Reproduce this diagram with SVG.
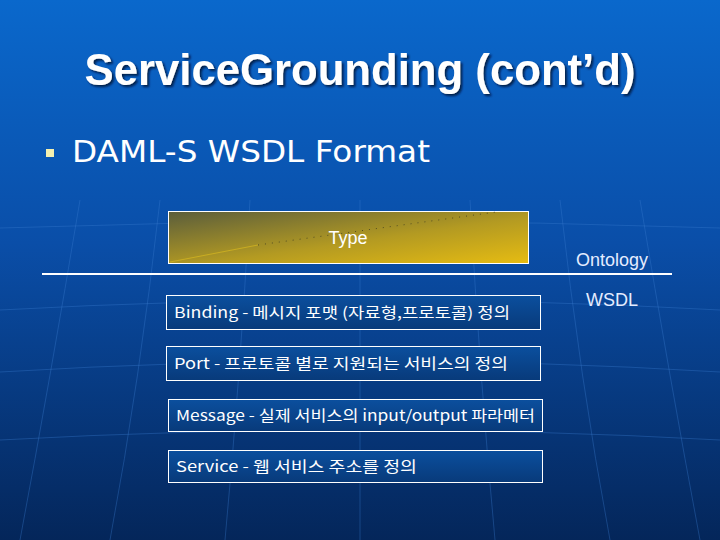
<svg xmlns="http://www.w3.org/2000/svg" width="720" height="540" viewBox="0 0 720 540">
<defs>
<linearGradient id="bg" x1="0" y1="0" x2="0" y2="1">
<stop offset="0" stop-color="#0a68cc"/>
<stop offset="0.45" stop-color="#0a4ea8"/>
<stop offset="1" stop-color="#04265a"/>
</linearGradient>
<linearGradient id="typeg" x1="0" y1="0" x2="1" y2="1">
<stop offset="0" stop-color="#5a5d3c"/>
<stop offset="0.55" stop-color="#b39a22"/>
<stop offset="1" stop-color="#e6bc12"/>
</linearGradient>
<linearGradient id="boxg" x1="0" y1="0" x2="0" y2="1">
<stop offset="0" stop-color="#0b4f9e"/>
<stop offset="1" stop-color="#083a7a"/>
</linearGradient>
<filter id="sh" x="-5%" y="-20%" width="110%" height="140%">
<feDropShadow dx="2" dy="2" stdDeviation="1" flood-color="#001030" flood-opacity="0.8"/>
</filter>
<style>
.title{font-family:"Liberation Sans",Arial,sans-serif;font-weight:bold;font-size:44px;fill:#ffffff}
.sub{font-family:"DejaVu Sans",Verdana,sans-serif;font-size:30px;fill:#ffffff}
.lbl{font-family:"Liberation Sans",Arial,sans-serif;font-size:18px;fill:#e4ecff}
.box{fill:url(#boxg);stroke:#ffffff;stroke-width:1}
.kt{font-family:"Noto Sans CJK KR","Noto Sans",sans-serif;font-size:15px;fill:#ffffff}
.grid{fill:none;stroke:#3c7fd0;stroke-width:1;opacity:0.35}
</style>
</defs>
<rect width="720" height="540" fill="url(#bg)"/>
<g id="globe">
<path class="grid" d="M0 310 Q360 290 720 310"/>
<path class="grid" d="M0 372 Q360 350 720 372"/>
<path class="grid" d="M0 440 Q360 420 720 440"/>
<path class="grid" d="M0 228 Q360 215 720 228"/>
<path class="grid" d="M80 200 Q50 380 20 540"/>
<path class="grid" d="M160 200 Q140 380 110 540"/>
<path class="grid" d="M250 200 Q240 380 225 540"/>
<path class="grid" d="M360 200 L360 540"/>
<path class="grid" d="M470 200 Q480 380 495 540"/>
<path class="grid" d="M560 200 Q580 380 610 540"/>
<path class="grid" d="M640 200 Q670 380 700 540"/>
</g>
<g id="title">
<text class="title" x="360" y="85" text-anchor="middle" textLength="551" lengthAdjust="spacingAndGlyphs" filter="url(#sh)">ServiceGrounding (cont’d)</text>
</g>
<g id="bullet">
<rect x="46" y="149" width="8" height="8" fill="#f4f0b0"/>
<text class="sub" x="72" y="162" textLength="358" lengthAdjust="spacingAndGlyphs">DAML-S WSDL Format</text>
</g>
<g id="type">
<rect x="168.5" y="211.5" width="360" height="52" fill="url(#typeg)" stroke="#ffffff" stroke-width="1"/>
<line x1="170" y1="262" x2="258" y2="245" stroke="#d8b820" stroke-width="1" opacity="0.7"/>
<line x1="258" y1="245" x2="496" y2="212" stroke="#303020" stroke-width="1" stroke-dasharray="1 6" opacity="0.7"/>
<text x="348" y="244" font-family="'Liberation Sans',Arial,sans-serif" font-size="18" fill="#ffffff" text-anchor="middle">Type</text>
</g>
<g id="divider">
<line x1="42" y1="274" x2="672" y2="274" stroke="#ffffff" stroke-width="2"/>
<text class="lbl" x="612" y="266" text-anchor="middle">Ontology</text>
<text class="lbl" x="612" y="306" text-anchor="middle">WSDL</text>
</g>
<g id="binding">
<rect class="box" x="166.5" y="295.5" width="374" height="34"/>
<text class="kt" x="174" y="318" textLength="336" lengthAdjust="spacingAndGlyphs">Binding - 메시지 포맷 (자료형,프로토콜) 정의</text>
</g>
<g id="port">
<rect class="box" x="166.5" y="346.5" width="374" height="34"/>
<text class="kt" x="174" y="369" textLength="334" lengthAdjust="spacingAndGlyphs">Port - 프로토콜 별로 지원되는 서비스의 정의</text>
</g>
<g id="message">
<rect class="box" x="168.5" y="399.5" width="374" height="32"/>
<text class="kt" x="176" y="421" textLength="359" lengthAdjust="spacingAndGlyphs">Message - 실제 서비스의 input/output 파라메터</text>
</g>
<g id="service">
<rect class="box" x="168.5" y="450.5" width="374" height="32"/>
<text class="kt" x="176" y="472" textLength="241" lengthAdjust="spacingAndGlyphs">Service - 웹 서비스 주소를 정의</text>
</g>
</svg>
